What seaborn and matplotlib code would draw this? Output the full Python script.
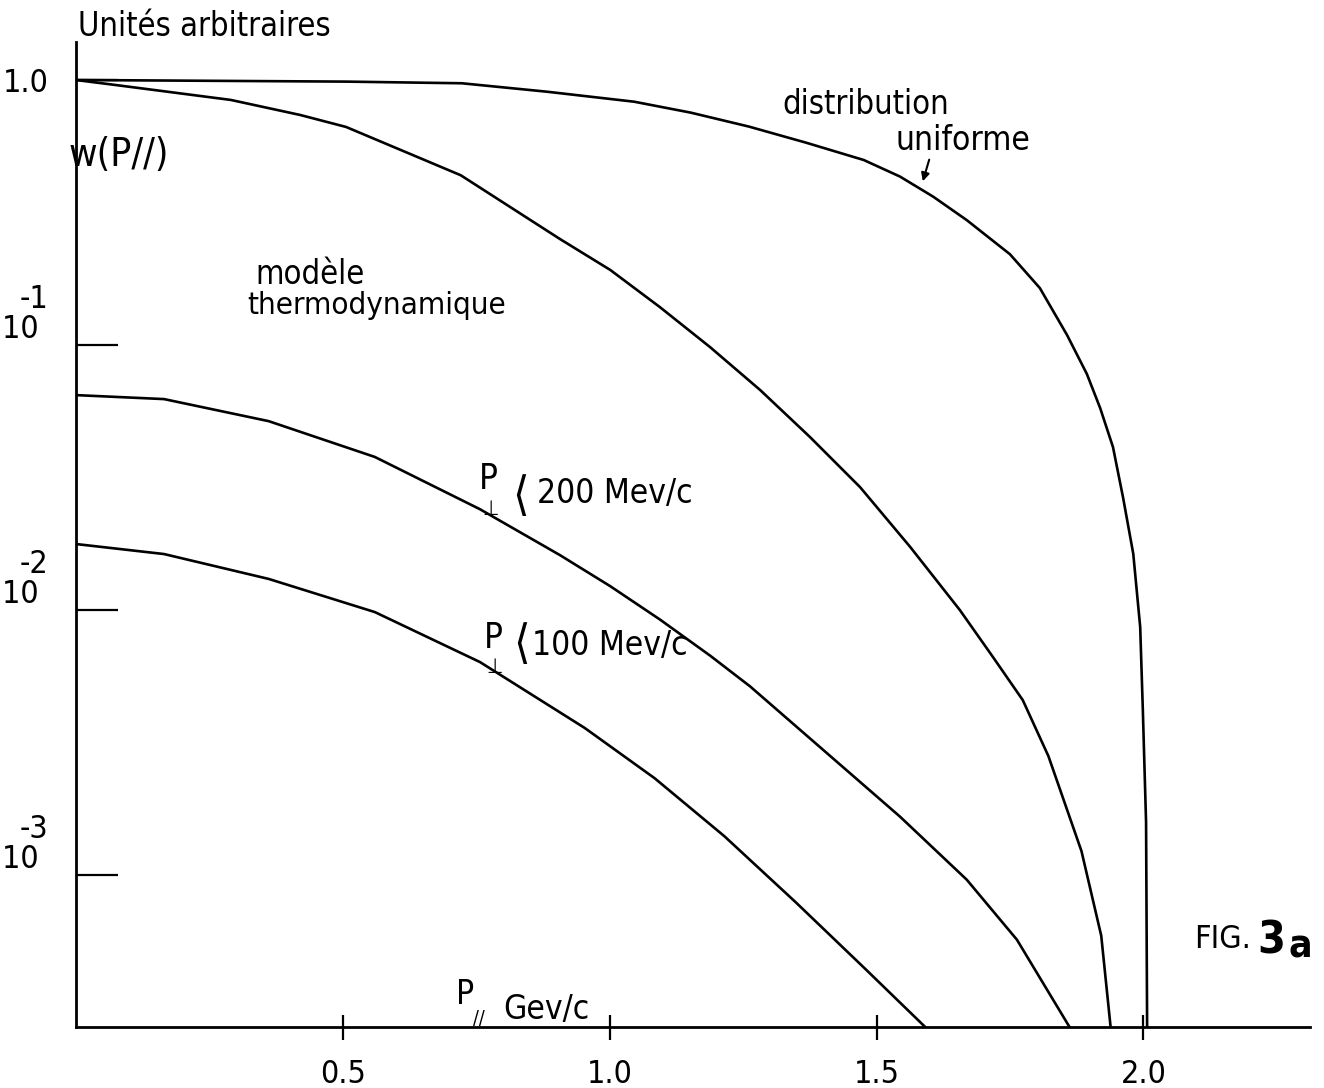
import numpy as np
import pandas as pd
import matplotlib
matplotlib.use("Agg")
import matplotlib.pyplot as plt
from matplotlib.ticker import NullLocator
import seaborn as sns

# ---- data (P// in GeV/c, W in arbitrary units) ----
p_uniform = [0.0, 0.508, 0.723, 0.883, 1.046, 1.152, 1.261, 1.368, 1.476, 1.544, 1.606,
             1.669, 1.750, 1.806, 1.857, 1.894, 1.919, 1.943, 1.962, 1.981, 1.994,
             1.999, 2.005, 2.007]
w_uniform = [1.0, 0.986, 0.972, 0.903, 0.828, 0.753, 0.667, 0.580, 0.499, 0.432, 0.363,
             0.296, 0.220, 0.164, 0.109, 0.0778, 0.0578, 0.0412, 0.0265, 0.0163, 0.00862,
             0.00416, 0.00158, 2.6e-4]

p_thermo = [0.0, 0.075, 0.290, 0.420, 0.506, 0.721, 0.907, 1.001, 1.094, 1.188, 1.282,
            1.375, 1.469, 1.563, 1.656, 1.718, 1.774, 1.822, 1.884, 1.921, 1.940]
w_thermo = [1.0, 0.957, 0.841, 0.738, 0.665, 0.437, 0.251, 0.192, 0.139, 0.0982, 0.0676,
            0.0450, 0.0291, 0.0173, 0.0100, 0.00665, 0.00457, 0.00281, 0.00123, 5.9e-4,
            2.5e-4]

p_200 = [0.0, 0.165, 0.361, 0.560, 0.757, 0.907, 1.001, 1.094, 1.188, 1.263, 1.544,
         1.669, 1.763, 1.865]
w_200 = [0.0647, 0.0625, 0.0516, 0.0378, 0.0240, 0.0161, 0.0123, 0.00921, 0.00673,
         0.00515, 0.00166, 9.6e-4, 5.7e-4, 2.6e-4]

p_100 = [0.0, 0.165, 0.361, 0.560, 0.757, 0.953, 1.084, 1.215, 1.348, 1.479, 1.597]
w_100 = [0.01774, 0.01626, 0.0131, 0.00982, 0.00636, 0.00359, 0.00232, 0.00140,
         7.91e-4, 4.42e-4, 2.6e-4]

curve_names = ["distribution uniforme", "modèle thermodynamique",
               "P⊥ < 200 Mev/c", "P⊥ < 100 Mev/c"]

x_ticks = [0.5, 1.0, 1.5, 2.0]
x_tick_labels = ["0.5", "1.0", "1.5", "2.0"]
y_ticks = [1e-3, 1e-2, 1e-1, 1.0]
y_tick_labels = ["-3\n10 ", "-2\n10 ", "-1\n10 ", "1.0"]

df = pd.concat([
    pd.DataFrame({"p": p_uniform, "w": w_uniform, "courbe": curve_names[0]}),
    pd.DataFrame({"p": p_thermo, "w": w_thermo, "courbe": curve_names[1]}),
    pd.DataFrame({"p": p_200, "w": w_200, "courbe": curve_names[2]}),
    pd.DataFrame({"p": p_100, "w": w_100, "courbe": curve_names[3]}),
], ignore_index=True)

sns.set_theme(style="white")
plt.rcParams["font.family"] = ["DejaVu Sans", "Noto Sans CJK SC"]
plt.rcParams["font.stretch"] = "condensed"

W, H = 1324, 1088
fig = plt.figure(figsize=(W / 100, H / 100), dpi=100)
fig.patch.set_facecolor("white")
x0px, y0px, x1px, y1px = 76, 1027, 1310, 42
ax = fig.add_axes([x0px / W, 1 - y0px / H, (x1px - x0px) / W, (y0px - y1px) / H])
ax.set_facecolor("white")

sns.lineplot(data=df, x="p", y="w", hue="courbe", estimator=None, sort=False,
             palette={n: "black" for n in curve_names}, legend=False,
             linewidth=1.9, ax=ax)

ax.set_yscale("log")
ax.set_xlim(0, (x1px - x0px) / 533.7)
ax.set_ylim(10 ** (-(y0px - 80) / 265), 10 ** ((80 - y1px) / 265))
ax.set_xlabel("")
ax.set_ylabel("")

for s in ["top", "right"]:
    ax.spines[s].set_visible(False)
for s in ["left", "bottom"]:
    ax.spines[s].set_color("black")
    ax.spines[s].set_linewidth(2.0)

ax.set_xticks(x_ticks)
ax.set_xticklabels(x_tick_labels)
ax.set_yticks(y_ticks)
ax.set_yticklabels(y_tick_labels, linespacing=0.95)
ax.yaxis.set_minor_locator(NullLocator())
ax.xaxis.set_minor_locator(NullLocator())
ax.tick_params(axis="x", direction="inout", length=18, width=1.6, pad=14,
               labelsize=23, colors="black", bottom=True)
ax.tick_params(axis="y", direction="in", length=30, width=1.6, pad=20,
               labelsize=23, colors="black", left=True)
for lab in ax.get_yticklabels()[:3]:
    lab.set_verticalalignment("bottom")


def ft(xp, yp, s, **kw):
    kw.setdefault("fontsize", 22)
    kw.setdefault("va", "center")
    kw.setdefault("ha", "left")
    fig.text(xp / W, 1 - yp / H, s, color="black", **kw)


ft(78, 27, "Unités arbitraires", fontsize=23.5)
ft(69, 155, "w(P//)", fontsize=28)
ft(255, 274, "modèle", fontsize=23.5)
ft(247, 306, "thermodynamique", fontsize=22.5)
ft(782, 105, "distribution", fontsize=23.5)
ft(896, 140, "uniforme", fontsize=24)
fig.add_artist(matplotlib.patches.FancyArrowPatch(
    (930 / W, 1 - 157 / H), (922 / W, 1 - 184 / H),
    transform=fig.transFigure, arrowstyle="-|>", mutation_scale=12,
    color="black", lw=1.5))

# P_perp < 200 MeV/c
ft(479, 479, "P", fontsize=25)
ft(491, 509, "⊥", fontsize=15, ha="center")
ft(512, 497, "⟨", fontsize=34)
ft(537, 494, "200 Mev/c", fontsize=24)

# P_perp < 100 MeV/c
ft(484, 638, "P", fontsize=25)
ft(495, 667, "⊥", fontsize=15, ha="center")
ft(513, 645, "⟨", fontsize=34)
ft(532, 645, "100 Mev/c", fontsize=24)

ft(456, 995, "P", fontsize=24)
ft(479, 1019, "//", fontsize=14, ha="center")
ft(503, 1010, "Gev/c", fontsize=24)

ft(1194, 940, "FIG.", fontsize=23)
ft(1257, 941, "3", fontsize=32, fontweight="bold")
ft(1288, 946, "a", fontsize=28, fontweight="bold")

fig.savefig("out.png", dpi=100, facecolor="white")
